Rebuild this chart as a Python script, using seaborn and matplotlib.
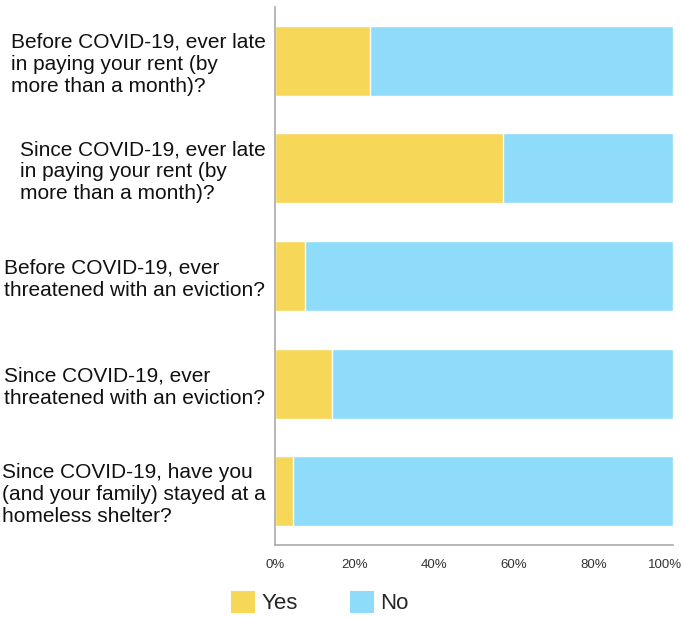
import numpy as np
import pandas as pd
import matplotlib
matplotlib.use("Agg")
import matplotlib.pyplot as plt
import matplotlib.transforms as mtransforms
import seaborn as sns
from matplotlib.patches import Patch

# questions (top to bottom)
questions = [
    "Before COVID-19, ever late\nin paying your rent (by\nmore than a month)?",
    "Since COVID-19, ever late\nin paying your rent (by\nmore than a month)?",
    "Before COVID-19, ever\nthreatened with an eviction?",
    "Since COVID-19, ever\nthreatened with an eviction?",
    "Since COVID-19, have you\n(and your family) stayed at a\nhomeless shelter?",
]
yes_pct = [23.9, 57.4, 7.6, 14.3, 4.6]
no_pct = [100 - v for v in yes_pct]
ticks = [0, 20, 40, 60, 80, 100]

yellow = "#F7D758"
blue = "#8EDCF9"

sns.set_theme(style="white")
plt.rcParams["font.family"] = ["Liberation Sans", "DejaVu Sans"]

df = pd.DataFrame({"q": questions, "yes": yes_pct, "no": no_pct})
df["total"] = df["yes"] + df["no"]

fig = plt.figure(figsize=(6.81, 6.18), dpi=100)
ax = fig.add_axes([0.404, 0.118, 0.584, 0.871])

# stacked: full bar in blue, yes part over it in yellow
sns.barplot(data=df, x="total", y="q", orient="h", color=blue, width=0.65,
            saturation=1, ax=ax)
sns.barplot(data=df, x="yes", y="q", orient="h", color=yellow, width=0.65,
            saturation=1, ax=ax)

ax.set_xlim(0, 100)
ax.set_ylim(4.5, -0.5)
ax.set_xticks(ticks)
ax.set_xticklabels([f"{t}%" for t in ticks], fontsize=9.5, color="#333333")
ax.set_xlabel("")
ax.set_ylabel("")
ax.tick_params(axis="both", length=0)
ax.tick_params(axis="x", pad=10)
ax.tick_params(axis="y", pad=7)
for lab in ax.get_yticklabels():
    lab.set_fontsize(15)
    lab.set_ha("right")
    lab.set_multialignment("left")
    lab.set_linespacing(1.2)
    lab.set_color("#111111")

# nudge the last tick label so it stays inside the figure
last = ax.get_xticklabels()[-1]
last.set_transform(last.get_transform() +
                   mtransforms.ScaledTranslation(-8 / 100, 0, fig.dpi_scale_trans))

for s in ["top", "right"]:
    ax.spines[s].set_visible(False)
for s in ["left", "bottom"]:
    ax.spines[s].set_color("#aaaaaa")
    ax.spines[s].set_linewidth(1.2)

handles = [Patch(facecolor=yellow, edgecolor=yellow, linewidth=1.5,
                 joinstyle="round", label="Yes"),
           Patch(facecolor=blue, edgecolor=blue, linewidth=1.5,
                 joinstyle="round", label="No")]
fig.legend(handles=handles, loc="center", bbox_to_anchor=(0.47, 0.024),
           ncol=2, frameon=False, fontsize=16, handlelength=1.0,
           handleheight=1.0, columnspacing=2.4, handletextpad=0.3)

fig.savefig("out.png", dpi=100)
